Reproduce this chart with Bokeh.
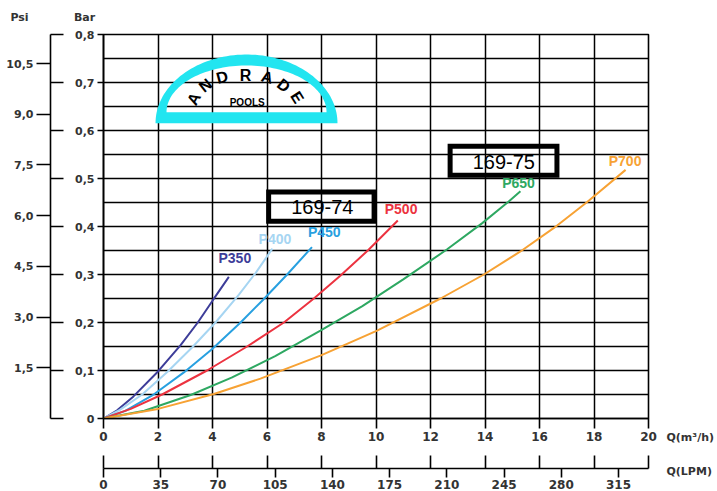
import numpy as np
from bokeh.plotting import figure
from bokeh.models import Range1d, LinearAxis, FixedTicker, Label
from bokeh.core.properties import value
from bokeh.embed import file_html
from bokeh.resources import INLINE

# ---------------- data ----------------
q_ticks = [0, 2, 4, 6, 8, 10, 12, 14, 16, 18, 20]
q_tick_labels = [str(v) for v in q_ticks]
bar_ticks = [0, 0.1, 0.2, 0.3, 0.4, 0.5, 0.6, 0.7, 0.8]
bar_tick_labels = ["0", "0,1", "0,2", "0,3", "0,4", "0,5", "0,6", "0,7", "0,8"]
bar_grid = [0, 0.05, 0.1, 0.15, 0.2, 0.25, 0.3, 0.35, 0.4, 0.45, 0.5, 0.55,
            0.6, 0.65, 0.7, 0.75, 0.8]
psi_ticks = [1.5, 3.0, 4.5, 6.0, 7.5, 9.0, 10.5]
psi_tick_labels = ["1,5", "3,0", "4,5", "6,0", "7,5", "9,0", "10,5"]
lpm_ticks = [0, 35, 70, 105, 140, 175, 210, 245, 280, 315]
lpm_tick_labels = [str(v) for v in lpm_ticks]
PSI_PER_BAR = 14.2
LPM_PER_M3H = 1000 / 60

pumps = ["P350", "P400", "P450", "P500", "P650", "P700"]
flow_p350 = [0, 0.5, 1.1, 2.0, 2.83, 3.46, 4.02, 4.6]
bar_p350 = [0, 0.017, 0.046, 0.098, 0.153, 0.2, 0.247, 0.295]
flow_p400 = [0, 0.6, 1.42, 2.34, 3.25, 4.11, 4.97, 5.58, 6.2]
bar_p400 = [0, 0.018, 0.05, 0.097, 0.148, 0.2, 0.258, 0.303, 0.354]
flow_p450 = [0, 0.8, 1.79, 2.95, 3.99, 5.03, 5.85, 6.74, 7.65]
bar_p450 = [0, 0.016, 0.048, 0.096, 0.145, 0.2, 0.247, 0.3, 0.357]
flow_p500 = [0, 1.0, 2.15, 3.8, 5.27, 6.62, 7.72, 8.7, 9.7, 10.8]
bar_p500 = [0, 0.02, 0.05, 0.1, 0.15, 0.2, 0.25, 0.298, 0.35, 0.4125]
flow_p650 = [0, 1.5, 3.2, 4.7, 6.3, 7.96, 9.5, 11.0, 12.6, 13.9, 14.87, 15.3]
bar_p650 = [0, 0.016, 0.049, 0.085, 0.13, 0.183, 0.234, 0.29, 0.352, 0.407, 0.452, 0.4735]
flow_p700 = [0, 2.0, 4.05, 5.76, 7.96, 10.04, 12.37, 13.96, 15.3, 16.53, 17.75, 19.16]
bar_p700 = [0, 0.02, 0.051, 0.083, 0.131, 0.183, 0.25, 0.3, 0.348, 0.397, 0.451, 0.518]

model_codes = ["169-74", "169-75"]

# ---------------- styles / positions ----------------
curve_flows = [flow_p350, flow_p400, flow_p450, flow_p500, flow_p650, flow_p700]
curve_bars = [bar_p350, bar_p400, bar_p450, bar_p500, bar_p650, bar_p700]
curve_colors = ["#3d3d99", "#a6d5f2", "#28a0e0", "#ec3340", "#2ea862", "#f7a234"]
name_x = [4.22, 5.69, 7.50, 10.32, 14.63, 18.54]
name_y = [0.317, 0.358, 0.372, 0.419, 0.473, 0.520]

box_left = [6.06, 12.72]
box_right = [9.93, 16.64]
box_bottom = [0.411, 0.507]
box_top = [0.472, 0.567]
code_x = [8.03, 14.69]
code_y = [0.440, 0.534]

TICK_FONT = "DejaVu Sans"
TICK_COLOR = "#333333"
LW = 1.6

p = figure(frame_width=545, frame_height=384, x_range=Range1d(0, 20), y_range=Range1d(0, 0.8),
           output_backend="svg", toolbar_location=None,
           min_border_left=103, min_border_right=69, min_border_top=34, min_border_bottom=0)
p.outline_line_color = "black"
p.outline_line_width = LW
p.background_fill_color = "white"
p.border_fill_color = "white"

p.extra_x_ranges = {"lpm": Range1d(0, q_ticks[-1] * LPM_PER_M3H)}
p.extra_y_ranges = {"psi": Range1d(0, bar_ticks[-1] * PSI_PER_BAR)}

# grid
p.xgrid.ticker = FixedTicker(ticks=q_ticks)
p.ygrid.ticker = FixedTicker(ticks=bar_grid)
for g in (p.xgrid, p.ygrid):
    g.grid_line_color = "black"
    g.grid_line_width = 1.5
    g.grid_line_alpha = 1.0


def style_axis(ax, size="11px"):
    ax.axis_line_color = "black"
    ax.axis_line_width = LW
    ax.major_tick_line_color = "black"
    ax.major_tick_line_width = LW
    ax.minor_tick_line_color = "black"
    ax.minor_tick_line_width = LW
    ax.major_label_text_font = TICK_FONT
    ax.major_label_text_font_style = "bold"
    ax.major_label_text_font_size = size
    ax.major_label_text_color = TICK_COLOR


# main x axis (m3/h)
xa = p.xaxis[0]
xa.ticker = FixedTicker(ticks=q_ticks)
xa.major_label_overrides = dict(zip(q_ticks, q_tick_labels))
style_axis(xa, "12px")
xa.major_tick_in = 0
xa.major_tick_out = 10
xa.minor_tick_line_color = None
xa.major_label_standoff = 3
xa.axis_label = " "
xa.axis_label_text_font_size = "17px"
xa.axis_label_standoff = 3

# bar axis
ya = p.yaxis[0]
ya.ticker = FixedTicker(ticks=bar_ticks)
ya.major_label_overrides = dict(zip(bar_ticks, bar_tick_labels))
style_axis(ya)
ya.major_tick_in = 0
ya.major_tick_out = 6
ya.minor_tick_line_color = None
ya.major_label_standoff = 3
ya.axis_label = " "
ya.axis_label_text_font_size = "12px"
ya.axis_label_standoff = 5

# psi axis
pa = LinearAxis(y_range_name="psi",
                ticker=FixedTicker(ticks=psi_ticks,
                                   minor_ticks=[b * PSI_PER_BAR for b in bar_ticks]))
pa.major_label_overrides = dict(zip(psi_ticks, psi_tick_labels))
style_axis(pa)
pa.major_tick_in = 0
pa.major_tick_out = 14
pa.minor_tick_in = 13
pa.minor_tick_out = 0
pa.major_label_standoff = 3
p.add_layout(pa, "left")

# LPM axis
la = LinearAxis(x_range_name="lpm",
                ticker=FixedTicker(ticks=lpm_ticks,
                                   minor_ticks=[q * LPM_PER_M3H for q in q_ticks]))
la.major_label_overrides = dict(zip(lpm_ticks, lpm_tick_labels))
style_axis(la, "12px")
la.major_tick_in = 0
la.major_tick_out = 9
la.minor_tick_in = 13
la.minor_tick_out = 0
la.major_label_standoff = 2
p.add_layout(la, "below")

# logo (decoration)
LOGO_CX, LOGO_CY_O, LOGO_AO, LOGO_BO = 5.248, 0.6152, 3.339, 0.1431
LOGO_CY_I, LOGO_AI, LOGO_BI = 0.6381, 2.936, 0.0973
t = np.linspace(0, np.pi, 80)
ox = list(LOGO_CX + LOGO_AO * np.cos(t))
oy = list(LOGO_CY_O + LOGO_BO * np.sin(t))
ix = list(LOGO_CX + LOGO_AI * np.cos(t))
iy = list(LOGO_CY_I + LOGO_BI * np.sin(t))
p.multi_polygons(xs=[[[ox, ix]]], ys=[[[oy, iy]]], fill_color="#22e5f0", line_color=None)

logo_letters = list("ANDRADE")
logo_lx = [3.312, 3.743, 4.356, 5.211, 6.007, 6.617, 7.108]
logo_ly = [0.666, 0.694, 0.711, 0.715, 0.711, 0.694, 0.669]
logo_ang = [62, 38, 15, 0, -15, -38, -58]
p.text(x=logo_lx, y=logo_ly, text=logo_letters, angle=logo_ang, angle_units="deg",
       text_font=value("Liberation Sans"), text_font_size="16px", text_font_style="bold",
       text_color="black", text_align="center", text_baseline="middle")
p.text(x=[5.273], y=[0.659], text=["POOLS"], text_font=value("Liberation Sans"),
       text_font_size="10px", text_font_style="bold", text_color="black",
       text_align="center", text_baseline="middle")

# curves
for fl, br, col in zip(curve_flows, curve_bars, curve_colors):
    p.line(fl, br, line_color=col, line_width=2)

for name, x, y, col in zip(pumps, name_x, name_y, curve_colors):
    p.add_layout(Label(x=x, y=y, text=name, text_color=col, text_font="Liberation Sans",
                       text_font_style="bold", text_font_size="14px",
                       text_align="left", text_baseline="bottom"))

# model boxes
p.quad(left=box_left, right=box_right, bottom=box_bottom, top=box_top,
       fill_color=None, line_color="black", line_width=5, line_join="miter")
for code, x, y in zip(model_codes, code_x, code_y):
    p.add_layout(Label(x=x, y=y, text=code, text_color="black", text_font="Liberation Sans",
                       text_font_size="20px", text_align="center", text_baseline="middle"))

# axis titles, placed in side panels so they are not clipped to the frame
for txt, x, y in [("Psi", -3.083, 0.8354), ("Bar", -0.697, 0.8354)]:
    p.add_layout(Label(x=x, y=y, text=txt, text_color=TICK_COLOR, text_font=TICK_FONT,
                       text_font_style="bold", text_font_size="11px",
                       text_align="center", text_baseline="middle"), "above")
p.add_layout(Label(x=20.66, y=-0.075, text="Q(m\u00b3/h)\nQ(LPM)", text_color=TICK_COLOR,
                   text_font=TICK_FONT, text_font_style="bold", text_font_size="11px",
                   text_line_height=2.62, text_align="left", text_baseline="middle"), "right")

open("out.html", "w").write(file_html(p, INLINE))
